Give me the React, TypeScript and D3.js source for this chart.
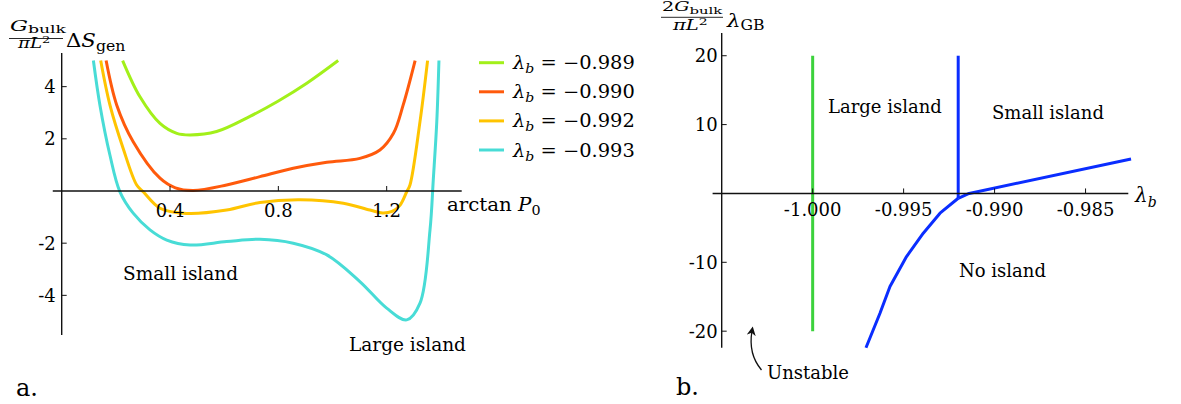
import React from 'react';
import * as d3 from 'd3';

// ---- panel a: generalized entropy vs arctan P0 ----
const lambdaB = ['−0.989', '−0.990', '−0.992', '−0.993'];
const seriesColors = ['#a2f01a', '#ff5a0c', '#ffc400', '#48dcd6'];

const curve989: [number, number][] = [
  [0.225, 5.0], [0.289, 3.61], [0.363, 2.59], [0.425, 2.21], [0.474, 2.15],
  [0.572, 2.28], [0.695, 2.86], [0.8, 3.45], [0.905, 4.13], [1.021, 5.0],
];
const curve990: [number, number][] = [
  [0.164, 5.0], [0.203, 3.3], [0.264, 1.89], [0.363, 0.49], [0.42, 0.12], [0.486, 0.02],
  [0.609, 0.23], [0.732, 0.55], [0.855, 0.87], [0.979, 1.1], [1.101, 1.25],
  [1.175, 1.57], [1.225, 2.21], [1.261, 3.3], [1.305, 5.0],
];
const curve992: [number, number][] = [
  [0.144, 5.0], [0.178, 3.3], [0.227, 1.63], [0.277, 0.23], [0.301, -0.03],
  [0.363, -0.66], [0.461, -0.86], [0.609, -0.73], [0.732, -0.44], [0.88, -0.34],
  [1.04, -0.47], [1.138, -0.73], [1.185, -0.84], [1.22, -0.78], [1.249, -0.55],
  [1.274, -0.03], [1.286, 0.23], [1.323, 2.66], [1.351, 5.0],
];
const curve993: [number, number][] = [
  [0.117, 5.0], [0.141, 3.3], [0.178, 1.38], [0.215, -0.03], [0.264, -0.85],
  [0.326, -1.49], [0.388, -1.88], [0.474, -2.07], [0.609, -1.94], [0.732, -1.85],
  [0.855, -2.0], [0.979, -2.45], [1.101, -3.47], [1.2, -4.49], [1.274, -4.94],
  [1.323, -4.3], [1.36, -1.49], [1.372, 0.42], [1.385, 2.66], [1.393, 5.0],
];
const entropyCurves = [curve989, curve990, curve992, curve993];
const arctanTicks = [0.4, 0.8, 1.2];
const entropyTicks = [-4, -2, 2, 4];

// ---- panel b: phase diagram ----
const lambdaTicks = [-1.0, -0.995, -0.99, -0.985];
const gbTicks = [-20, -10, 10, 20];
const stabilityEdge: [number, number][] = [[-1.0, -20], [-1.0, 20]];
const blueVertical: [number, number][] = [[-0.992, 20], [-0.992, -0.7]];
const blueUpper: [number, number][] = [[-0.992, -0.7], [-0.9914, 0.0], [-0.9825, 5.0]];
const blueLower: [number, number][] = [
  [-0.992, -0.7], [-0.993, -2.87], [-0.99392, -5.77], [-0.99484, -9.16],
  [-0.99575, -13.5], [-0.9963, -17.4], [-0.99707, -22.4],
];

const FONT = '"DejaVu Serif", serif';

// text squeezed/stretched horizontally, the math labels are wide in the original
const Wide = ({ x, y, sx, children }: { x: number; y: number; sx: number; children: React.ReactNode }) => (
  <g transform={`translate(${x},${y}) scale(${sx},1)`}>
    <text x={0} y={0}>{children}</text>
  </g>
);

export default function App() {
  const xL = d3.scaleLinear().domain([0, 1.477]).range([61.7, 461.7]);
  const yL = d3.scaleLinear().domain([-5.52, 5.29]).range([335, 53]);
  const xR = d3.scaleLinear().domain([-1.005, -0.98265]).range([721.7, 1128.3]);
  const yR = d3.scaleLinear().domain([-22.4, 23.3]).range([347.7, 33]);

  const lineL = d3.line<[number, number]>().x(d => xL(d[0])).y(d => yL(d[1])).curve(d3.curveCatmullRom.alpha(0.5));
  const lineR = d3.line<[number, number]>().x(d => xR(d[0])).y(d => yR(d[1]));

  const tickFmt = d3.format('.3f');

  return (
    <svg width={1181} height={404} style={{ position: 'absolute', left: 0, top: 0 }} fontFamily={FONT}>
      <rect width={1181} height={404} fill="white" />
      {/* panel a */}
      <g>
        {entropyCurves.map((c, i) => (
          <path key={i} d={lineL(c) || ''} fill="none" stroke={seriesColors[i]} strokeWidth={3} />
        ))}
        <line x1={xL(-0.033)} x2={xL(1.477)} y1={yL(0)} y2={yL(0)} stroke="#111" strokeWidth={1.4} />
        <line x1={xL(0)} x2={xL(0)} y1={yL(5.29)} y2={yL(-5.52)} stroke="#111" strokeWidth={1.4} />
        {arctanTicks.map(t => (
          <g key={t}>
            <line x1={xL(t)} x2={xL(t)} y1={yL(0)} y2={yL(0) - 5} stroke="#111" strokeWidth={1} />
            <text x={xL(t)} y={yL(0) + 26} textAnchor="middle" fontSize={18}>{t.toFixed(1)}</text>
          </g>
        ))}
        {entropyTicks.map(t => (
          <g key={t}>
            <line x1={xL(0)} x2={xL(0) + 5} y1={yL(t)} y2={yL(t)} stroke="#111" strokeWidth={1} />
            <text x={xL(0) - 6} y={yL(t) + 6.5} textAnchor="end" fontSize={18}>{t < 0 ? '-' + Math.abs(t) : t}</text>
          </g>
        ))}
        <g fontSize={18}>
          <Wide x={447} y={211} sx={1.1}>arctan <tspan fontStyle="italic">P</tspan><tspan fontSize={13} dy={4}>0</tspan></Wide>
        </g>
        {/* y label */}
        <g fontSize={15}>
          <Wide x={10} y={30.5} sx={1.5}><tspan fontStyle="italic">G</tspan><tspan fontSize={11.5} dy={2.5}>bulk</tspan></Wide>
        </g>
        <line x1={9} x2={63} y1={38.5} y2={38.5} stroke="#111" strokeWidth={0.9} />
        <g fontSize={14}>
          <Wide x={18} y={48} sx={1.3}><tspan fontStyle="italic">πL</tspan><tspan fontSize={10} dy={-5}>2</tspan></Wide>
        </g>
        <g fontSize={19}>
          <Wide x={66} y={46.5} sx={1.12}>Δ<tspan fontStyle="italic">S</tspan><tspan fontSize={14} dy={4}>gen</tspan></Wide>
        </g>
        {/* legend */}
        {lambdaB.map((lb, i) => (
          <g key={lb} transform={`translate(479,${62.7 + i * 29.1})`}>
            <line x1={0} x2={25} y1={0} y2={0} stroke={seriesColors[i]} strokeWidth={3} />
            <g fontSize={18}>
              <Wide x={34} y={6.5} sx={1.08}><tspan fontStyle="italic">λ</tspan><tspan fontStyle="italic" fontSize={13} dy={4}>b</tspan><tspan dy={-4}> = {lb}</tspan></Wide>
            </g>
          </g>
        ))}
        <text x={123} y={279.5} fontSize={18.5}>Small island</text>
        <text x={349} y={351} fontSize={18.5}>Large island</text>
        <text x={16} y={396} fontSize={24}>a.</text>
      </g>

      {/* panel b */}
      <g>
        <path d={lineR(stabilityEdge) || ''} fill="none" stroke="#3cd23c" strokeWidth={3} />
        <path d={lineR(blueVertical) || ''} fill="none" stroke="#0a2dff" strokeWidth={3} />
        <path d={lineR(blueUpper) || ''} fill="none" stroke="#0a2dff" strokeWidth={3} strokeLinejoin="round" />
        <path d={lineR(blueLower) || ''} fill="none" stroke="#0a2dff" strokeWidth={3} strokeLinejoin="round" />
        <line x1={xR(-1.0055)} x2={xR(-0.98265)} y1={yR(0)} y2={yR(0)} stroke="#111" strokeWidth={1.4} />
        <line x1={xR(-1.005)} x2={xR(-1.005)} y1={yR(23.3)} y2={yR(-22.4)} stroke="#111" strokeWidth={1.4} />
        {lambdaTicks.map(t => (
          <g key={t}>
            <line x1={xR(t)} x2={xR(t)} y1={yR(0)} y2={yR(0) - 5} stroke="#111" strokeWidth={1} />
            <text x={xR(t)} y={yR(0) + 23} textAnchor="middle" fontSize={18}>{tickFmt(t).replace('−', '-')}</text>
          </g>
        ))}
        {gbTicks.map(t => (
          <g key={t}>
            <line x1={xR(-1.005)} x2={xR(-1.005) + 5} y1={yR(t)} y2={yR(t)} stroke="#111" strokeWidth={1} />
            <text x={xR(-1.005) - 4} y={yR(t) + 6.5} textAnchor="end" fontSize={18}>{t < 0 ? '-' + Math.abs(t) : t}</text>
          </g>
        ))}
        <text x={1135} y={202} fontSize={20}><tspan fontStyle="italic">λ</tspan><tspan fontStyle="italic" fontSize={14} dy={5}>b</tspan></text>
        {/* y label */}
        <g fontSize={13}>
          <Wide x={662} y={11} sx={1.48}>2<tspan fontStyle="italic">G</tspan><tspan fontSize={10} dy={2.5}>bulk</tspan></Wide>
        </g>
        <line x1={661} x2={723} y1={17.3} y2={17.3} stroke="#111" strokeWidth={0.9} />
        <g fontSize={14}>
          <Wide x={673} y={29.5} sx={1.4}><tspan fontStyle="italic">πL</tspan><tspan fontSize={10} dy={-5}>2</tspan></Wide>
        </g>
        <g fontSize={19}>
          <Wide x={727} y={27} sx={1.12}><tspan fontStyle="italic">λ</tspan><tspan fontSize={14} dy={3}>GB</tspan></Wide>
        </g>
        <text x={828} y={113} fontSize={18}>Large island</text>
        <text x={992} y={119} fontSize={18}>Small island</text>
        <text x={959} y={276.5} fontSize={18}>No island</text>
        <text x={767} y={379} fontSize={18}>Unstable</text>
        <defs>
          <marker id="ah" viewBox="0 0 10 10" refX={5} refY={5} markerWidth={7} markerHeight={7} orient="auto-start-reverse">
            <path d="M0,0 L10,5 L0,10 L3,5 Z" fill="#111" />
          </marker>
        </defs>
        <path d="M761.5,370 Q748,354 752,331" fill="none" stroke="#111" strokeWidth={1.3} markerEnd="url(#ah)" />
        <text x={676} y={395} fontSize={24}>b.</text>
      </g>
    </svg>
  );
}
